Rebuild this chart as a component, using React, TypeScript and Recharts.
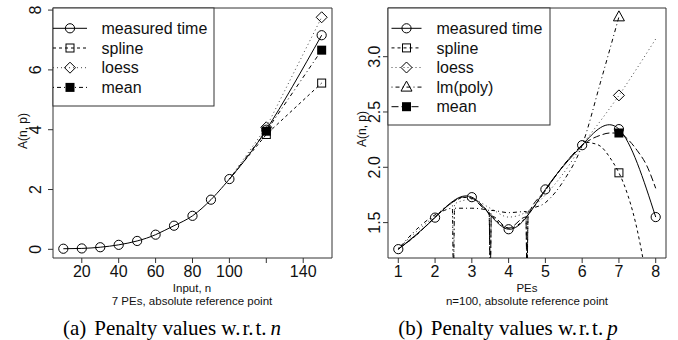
import React from 'react';
import { LineChart, Line, XAxis, YAxis, ReferenceArea } from 'recharts';

// panel (a): penalty vs input size n
const inputN = [10, 20, 30, 40, 50, 60, 70, 80, 90, 100, 120, 150];
const measuredA = [0.02, 0.03, 0.07, 0.15, 0.28, 0.49, 0.79, 1.12, 1.66, 2.35, 4.0, 7.16];
const predN = [100, 120, 150];
const splineA = [2.35, 3.84, 5.56];
const loessA = [2.35, 4.08, 7.76];
const meanA = [2.35, 3.95, 6.66];
const markN = [120, 150];
const xTicksA = [20, 40, 60, 80, 100, 120, 140];
const yTicksA = [0, 2, 4, 6, 8];

// panel (b): penalty vs number of PEs p
const pes = [1, 2, 3, 4, 5, 6, 7, 8];
const measuredB = [1.26, 1.545, 1.73, 1.44, 1.8, 2.2, 2.345, 1.55];
const splineXB = [1, 1.5, 2, 2.5, 3, 3.5, 4, 4.5, 5, 5.5, 6, 6.25, 6.5, 6.75, 7, 7.25, 7.5, 7.75];
const splineB = [1.26, 1.39, 1.55, 1.69, 1.72, 1.58, 1.45, 1.56, 1.79, 2.02, 2.2, 2.22, 2.19, 2.09, 1.95, 1.74, 1.43, 1.0];
const loessXB = [1, 1.5, 2, 2.47, 2.5, 2.53, 3, 3.5, 4, 4.5, 5, 5.5, 6, 6.5, 7, 7.5, 8];
const loessB = [1.27, 1.42, 1.56, 1.67, 1.0, 1.67, 1.71, 1.63, 1.55, 1.6, 1.75, 1.95, 2.2, 2.42, 2.65, 2.9, 3.16];
const polyXB = [1, 1.5, 2, 2.25, 2.47, 2.5, 2.53, 3, 3.47, 3.5, 3.53, 4, 4.47, 4.5, 4.53, 5, 5.5, 6, 6.5, 7];
const polyB = [1.26, 1.44, 1.57, 1.61, 1.63, 1.0, 1.63, 1.63, 1.61, 1.0, 1.61, 1.59, 1.6, 1.0, 1.6, 1.68, 1.88, 2.2, 2.77, 3.36];
const meanXB = [1, 1.5, 2, 2.5, 2.75, 3, 3.25, 3.47, 3.5, 3.53, 4, 4.47, 4.5, 4.53, 5, 5.5, 6, 6.5, 6.75, 7, 7.25, 7.5, 7.75, 8];
const meanB = [1.26, 1.39, 1.55, 1.69, 1.73, 1.72, 1.65, 1.57, 1.0, 1.56, 1.45, 1.55, 1.0, 1.56, 1.79, 2.02, 2.2, 2.29, 2.31, 2.31, 2.25, 2.15, 2.02, 1.81];
const markP = [7];
const xTicksB = [1, 2, 3, 4, 5, 6, 7, 8];
const yTicksB = [1.5, 2.0, 2.5, 3.0];

const SANS = '"Liberation Sans", Arial, Helvetica, sans-serif';
const SERIF = '"Liberation Serif", "Times New Roman", serif';

const LTY = {
  solid: undefined,
  dashed: '3 3',
  dotted: '1 3',
  dotdash: '1 3 4 3',
  longdash: '7 3',
};

const toRows = (xs: number[], ys: number[]) => xs.map((x, i) => ({ x, y: ys[i] }));

type Shape = 'circle' | 'square' | 'diamond' | 'triangle' | 'filled';

const Marker = ({ shape, cx, cy }: { shape: Shape; cx: number; cy: number }) => {
  if (shape === 'circle') return <circle cx={cx} cy={cy} r={4.6} fill="none" stroke="#000" strokeWidth={1} />;
  if (shape === 'square') return <rect x={cx - 4} y={cy - 4} width={8} height={8} fill="none" stroke="#000" strokeWidth={1} />;
  if (shape === 'filled') return <rect x={cx - 4.5} y={cy - 4.5} width={9} height={9} fill="#000" />;
  if (shape === 'diamond')
    return <polygon points={`${cx},${cy - 5.5} ${cx + 5.5},${cy} ${cx},${cy + 5.5} ${cx - 5.5},${cy}`} fill="none" stroke="#000" strokeWidth={1} />;
  return <polygon points={`${cx},${cy - 6} ${cx + 5.5},${cy + 4} ${cx - 5.5},${cy + 4}`} fill="none" stroke="#000" strokeWidth={1} />;
};

const markerDot = (shape: Shape, at: number[]) => (props: any) => {
  const { cx, cy, payload, index } = props;
  if (cx == null || cy == null || !at.includes(payload.x)) return <g key={index} />;
  return <g key={index}><Marker shape={shape} cx={cx} cy={cy} /></g>;
};

const XTick = ({ x, y, payload, skip }: any) => {
  if (skip && skip.includes(payload.value)) return <g />;
  return (
    <text x={x} y={y} dy="0.71em" textAnchor="middle" fontFamily={SANS} fontSize={16} fill="#111">
      {payload.value}
    </text>
  );
};

const YTick = ({ x, y, payload, digits }: any) => (
  <text x={x} y={y} transform={`rotate(-90 ${x} ${y})`} textAnchor="middle" fontFamily={SANS} fontSize={16} fill="#111">
    {payload.value.toFixed(digits)}
  </text>
);

interface LegendRow {
  label: string;
  dash?: string;
  shape: Shape;
  color?: string;
}

const LegendBox = ({ x, y, w, h, rows, l1, l2, tx, y0, gap }: {
  x: number; y: number; w: number; h: number; rows: LegendRow[];
  l1: number; l2: number; tx: number; y0: number; gap: number;
}) => (
  <g>
    <rect x={x} y={y} width={w} height={h} fill="#fff" stroke="#333" strokeWidth={1} />
    {rows.map((r, i) => {
      const ry = y0 + i * gap;
      return (
        <g key={r.label}>
          <line x1={l1} x2={l2} y1={ry} y2={ry} stroke={r.color || '#000'} strokeDasharray={r.dash} strokeWidth={1} />
          <Marker shape={r.shape} cx={(l1 + l2) / 2} cy={ry} />
          <text x={tx} y={ry} dy="0.36em" fontFamily={SANS} fontSize={16} fill="#111">{r.label}</text>
        </g>
      );
    })}
  </g>
);

const PanelA = () => (
  <LineChart width={340} height={340} margin={{ top: 8, right: 8, bottom: 52, left: 0 }}>
    <XAxis type="number" dataKey="x" domain={[4.4, 155.6]} ticks={xTicksA} interval={0} allowDataOverflow
      axisLine={false} tickSize={5} tickMargin={3} height={30} stroke="#333"
      tick={(p: any) => <XTick {...p} skip={[120]} />} />
    <YAxis type="number" domain={[-0.29, 8.07]} ticks={yTicksA} interval={0} allowDataOverflow
      axisLine={false} tickSize={5} tickMargin={7} width={53} stroke="#333"
      tick={(p: any) => <YTick {...p} digits={0} />} />
    <Line data={toRows(predN, splineA)} dataKey="y" type="linear" stroke="#000" strokeWidth={1}
      strokeDasharray={LTY.dashed} dot={markerDot('square', markN)} activeDot={false} isAnimationActive={false} />
    <Line data={toRows(predN, loessA)} dataKey="y" type="linear" stroke="#444" strokeWidth={1}
      strokeDasharray={LTY.dotted} dot={markerDot('diamond', markN)} activeDot={false} isAnimationActive={false} />
    <Line data={toRows(predN, meanA)} dataKey="y" type="linear" stroke="#000" strokeWidth={1}
      strokeDasharray={LTY.dotdash} dot={markerDot('filled', markN)} activeDot={false} isAnimationActive={false} />
    <Line data={toRows(inputN, measuredA)} dataKey="y" type="natural" stroke="#000" strokeWidth={1}
      dot={markerDot('circle', inputN)} activeDot={false} isAnimationActive={false} />
    <ReferenceArea x1={4.4} x2={155.6} y1={-0.29} y2={8.07} fill="none" stroke="#333" strokeWidth={1} ifOverflow="visible" />
  </LineChart>
);

const PanelB = () => (
  <LineChart width={338} height={340} margin={{ top: 8, right: 12, bottom: 52, left: 0 }}>
    <XAxis type="number" dataKey="x" domain={[0.72, 8.28]} ticks={xTicksB} interval={0} allowDataOverflow
      axisLine={false} tickSize={5} tickMargin={3} height={30} stroke="#333"
      tick={(p: any) => <XTick {...p} />} />
    <YAxis type="number" domain={[1.18, 3.44]} ticks={yTicksB} interval={0} allowDataOverflow
      axisLine={false} tickSize={5} tickMargin={2.6} width={48} stroke="#333"
      tick={(p: any) => <YTick {...p} digits={1} />} />
    <Line data={toRows(splineXB, splineB)} dataKey="y" type="natural" stroke="#000" strokeWidth={1}
      strokeDasharray={LTY.dashed} dot={markerDot('square', markP)} activeDot={false} isAnimationActive={false} />
    <Line data={toRows(loessXB, loessB)} dataKey="y" type="monotone" stroke="#444" strokeWidth={1}
      strokeDasharray={LTY.dotted} dot={markerDot('diamond', markP)} activeDot={false} isAnimationActive={false} />
    <Line data={toRows(polyXB, polyB)} dataKey="y" type="monotone" stroke="#000" strokeWidth={1}
      strokeDasharray={LTY.dotdash} dot={markerDot('triangle', markP)} activeDot={false} isAnimationActive={false} />
    <Line data={toRows(meanXB, meanB)} dataKey="y" type="monotone" stroke="#000" strokeWidth={1}
      strokeDasharray={LTY.longdash} dot={markerDot('filled', markP)} activeDot={false} isAnimationActive={false} />
    <Line data={toRows(pes, measuredB)} dataKey="y" type="natural" stroke="#000" strokeWidth={1}
      dot={markerDot('circle', pes)} activeDot={false} isAnimationActive={false} />
    <ReferenceArea x1={0.72} x2={8.28} y1={1.18} y2={3.44} fill="none" stroke="#333" strokeWidth={1} ifOverflow="visible" />
  </LineChart>
);

const legendA: LegendRow[] = [
  { label: 'measured time', shape: 'circle' },
  { label: 'spline', shape: 'square', dash: LTY.dashed },
  { label: 'loess', shape: 'diamond', dash: LTY.dotted, color: '#444' },
  { label: 'mean', shape: 'filled', dash: LTY.dotdash },
];

const legendB: LegendRow[] = [
  { label: 'measured time', shape: 'circle' },
  { label: 'spline', shape: 'square', dash: LTY.dashed },
  { label: 'loess', shape: 'diamond', dash: LTY.dotted, color: '#444' },
  { label: 'lm(poly)', shape: 'triangle', dash: LTY.dotdash },
  { label: 'mean', shape: 'filled', dash: LTY.longdash },
];

export default function App() {
  return (
    <div style={{ position: 'absolute', left: 0, top: 0, width: 678, height: 340, background: '#fff' }}>
      <div style={{ position: 'absolute', left: 0, top: 0 }}>
        <PanelA />
      </div>
      <div style={{ position: 'absolute', left: 340, top: 0 }}>
        <PanelB />
      </div>
      <svg width={678} height={340} style={{ position: 'absolute', left: 0, top: 0, pointerEvents: 'none' }}>
        <LegendBox x={53} y={8} w={161} h={98} rows={legendA} l1={53} l2={87} tx={101.5} y0={28.3} gap={19.7} />
        <LegendBox x={388} y={8} w={162} h={117} rows={legendB} l1={391.5} l2={421.5} tx={436.5} y0={28.3} gap={19.6} />

        <text x={26.5} y={131} transform="rotate(-90 26.5 131)" textAnchor="middle" fontFamily={SANS} fontSize={12} fill="#111">A(n, p)</text>
        <text x={366} y={129} transform="rotate(-90 366 129)" textAnchor="middle" fontFamily={SANS} fontSize={12} fill="#111">A(n, p)</text>

        <text x={192} y={292} textAnchor="middle" fontFamily={SANS} fontSize={11.5} fill="#111">Input, n</text>
        <text x={192} y={305} textAnchor="middle" fontFamily={SANS} fontSize={11.5} fill="#111">7 PEs, absolute reference point</text>
        <text x={527} y={292} textAnchor="middle" fontFamily={SANS} fontSize={11.5} fill="#111">PEs</text>
        <text x={527} y={305} textAnchor="middle" fontFamily={SANS} fontSize={11.5} fill="#111">n=100, absolute reference point</text>

        <text x={172} y={335} textAnchor="middle" fontFamily={SERIF} fontSize={21} fill="#000">
          (a)<tspan dx={8}>Penalty values w.</tspan><tspan dx={2}>r.</tspan><tspan dx={2}>t.</tspan>
          <tspan dx={4} fontStyle="italic">n</tspan>
        </text>
        <text x={508} y={335} textAnchor="middle" fontFamily={SERIF} fontSize={21} fill="#000">
          (b)<tspan dx={8}>Penalty values w.</tspan><tspan dx={2}>r.</tspan><tspan dx={2}>t.</tspan>
          <tspan dx={4} fontStyle="italic">p</tspan>
        </text>
      </svg>
    </div>
  );
}
